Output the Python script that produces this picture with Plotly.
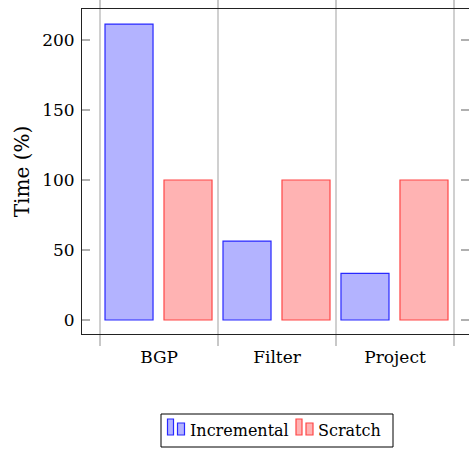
import plotly.graph_objects as go

# Relative runtime of each operation, in percent of a from-scratch run
categories = ["BGP", "Filter", "Project"]
incremental = [211.4, 56.4, 33.3]
scratch = [100, 100, 100]
series_names = ["Incremental", "Scratch"]
y_ticks = [0, 50, 100, 150, 200]

W, H = 469, 449
L, R, T, B = 82, 0, 9, 115
FONT = "DejaVu Serif"
FS = 17

blue_fill, blue_line = "rgb(179,179,255)", "rgb(40,40,255)"
red_fill, red_line = "rgb(255,179,179)", "rgb(255,70,70)"

xs = list(range(len(categories)))
bounds = [-0.5, 0.5, 1.5, 2.5]
bar_w = 0.407
x_range = [-0.653, 2.627]

fig = go.Figure()
fig.add_trace(go.Bar(
    x=xs, y=incremental, name=series_names[0], width=bar_w, offset=-0.458,
    marker=dict(color=blue_fill, line=dict(color=blue_line, width=1.2)),
    showlegend=False,
))
fig.add_trace(go.Bar(
    x=xs, y=scratch, name=series_names[1], width=bar_w, offset=0.042,
    marker=dict(color=red_fill, line=dict(color=red_line, width=1.2)),
    showlegend=False,
))
# empty trace so the top tick axis gets drawn
fig.add_trace(go.Scatter(x=[None], y=[None], xaxis="x2", yaxis="y",
                         mode="markers", showlegend=False, hoverinfo="skip"))

fig.update_layout(
    width=W, height=H,
    margin=dict(l=L, r=R, t=T, b=B, pad=0),
    plot_bgcolor="white", paper_bgcolor="white",
    font=dict(family=FONT, size=FS, color="black"),
    barmode="overlay",
)

grid_minor = dict(tickvals=bounds, ticks="outside", ticklen=11,
                  tickcolor="#c8c8c8", tickwidth=1.5,
                  showgrid=True, gridcolor="#d0d0d0", gridwidth=1.5)
fig.update_layout(
    xaxis=dict(
        range=x_range,
        tickvals=xs, ticktext=categories, ticks="", ticklen=0,
        showgrid=False, zeroline=False,
        showline=True, linecolor="#222", linewidth=1, mirror=True,
        ticklabelstandoff=8,
        minor=grid_minor,
    ),
    # top copy of the category axis, carrying only the boundary ticks
    xaxis2=dict(
        range=x_range, overlaying="x", side="top",
        showticklabels=False, tickvals=[], ticks="",
        showgrid=False, zeroline=False, showline=False,
        minor=dict(tickvals=bounds, ticks="outside", ticklen=11,
                   tickcolor="#c8c8c8", tickwidth=1.5, showgrid=False),
    ),
    yaxis=dict(
        range=[-10, 222.14],
        tickvals=y_ticks, ticks="inside", ticklen=8, tickcolor="#b0b0b0", tickwidth=1.5,
        showgrid=False, zeroline=False,
        showline=True, linecolor="#222", linewidth=1, mirror="ticks",
        ticklabelstandoff=3,
        title=dict(text="Time (%)", standoff=7),
    ),
)

# Hand-built legend box under the axes, with the two-bar bar-chart glyph
pw, ph = W - L - R, H - T - B


def px(x):
    return (x - L) / pw


def py(y):
    return (H - B - y) / ph


shapes = [dict(type="rect", xref="paper", yref="paper",
               x0=px(161), x1=px(393), y0=py(447), y1=py(414),
               line=dict(color="black", width=1), fillcolor="white")]
entries = [(167.5, series_names[0], blue_fill, blue_line),
           (296, series_names[1], red_fill, red_line)]
for x0, label, fill, line in entries:
    for dx, top, wdt in [(0, 419, 6), (10, 423, 7)]:
        shapes.append(dict(type="rect", xref="paper", yref="paper",
                           x0=px(x0 + dx), x1=px(x0 + dx + wdt),
                           y0=py(435), y1=py(top),
                           line=dict(color=line, width=1.2), fillcolor=fill))
    fig.add_annotation(text=label, xref="paper", yref="paper",
                       x=px(x0 + 20), y=py(430), xanchor="left", yanchor="middle",
                       showarrow=False, font=dict(family=FONT, size=16, color="black"))
fig.update_layout(shapes=shapes)

fig.write_html("out.html")
